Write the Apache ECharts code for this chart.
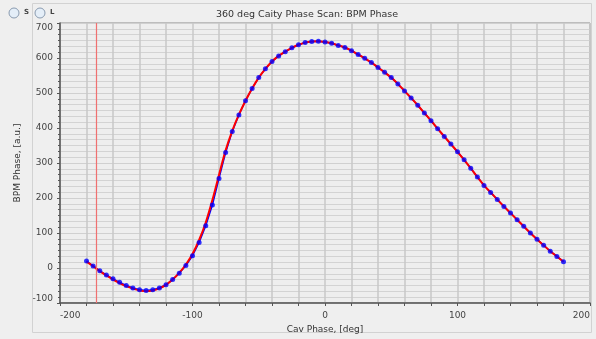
<!DOCTYPE html>
<html>
<head>
<meta charset="utf-8">
<script src="https://cdn.jsdelivr.net/npm/echarts@6/dist/echarts.min.js"></script>
<style>
  html, body { margin: 0; padding: 0; background: #efefef; }
  #chart { width: 596px; height: 339px; }
</style>
</head>
<body>
<div id="chart"></div>
<script>
// cavity phase (deg)
const cavPhase = [-180, -175, -170, -165, -160, -155, -150, -145, -140, -135, -130, -125, -120, -115, -110, -105,
  -100, -95, -90, -85, -80, -75, -70, -65, -60, -55, -50, -45, -40, -35, -30, -25, -20, -15, -10, -5,
  0, 5, 10, 15, 20, 25, 30, 35, 40, 45, 50, 55, 60, 65, 70, 75, 80, 85, 90, 95, 100, 105, 110, 115,
  120, 125, 130, 135, 140, 145, 150, 155, 160, 165, 170, 175, 180];
// measured BPM phase (blue points)
const bpmPhase = [20, 6, -8, -20, -31, -41, -50, -57, -62, -64, -62, -57, -48, -33, -15, 7,
  35, 73, 121, 180, 256, 330, 390, 437, 478, 513, 544, 569, 590, 606, 618, 629, 638, 644, 647, 648,
  646, 642, 636, 630, 621, 610, 599, 587, 573, 559, 544, 526, 506, 486, 465, 443, 421, 398, 376, 354, 332, 309, 285, 260,
  236, 216, 196, 176, 157, 138, 119, 100, 82, 65, 48, 33, 18];
// fitted curve (red line)
const fitPhase = [18, 5, -9, -21, -33, -43, -52, -59, -64, -66, -64, -58, -48, -33, -14, 10,
  40, 80, 130, 194, 266, 336, 392, 438, 478, 513, 544, 569, 590, 606, 618, 629, 638, 644, 647, 648,
  646, 642, 636, 630, 621, 610, 599, 587, 573, 559, 544, 526, 506, 486, 465, 443, 421, 398, 376, 354, 332, 309, 285, 260,
  236, 216, 196, 176, 157, 138, 119, 100, 82, 65, 48, 33, 18];
const markerPhase = -173;

const pts = cavPhase.map((x, i) => [x, bpmPhase[i]]);
const fit = cavPhase.map((x, i) => [x, fitPhase[i]]);

const chart = echarts.init(document.getElementById('chart'));
const font = 'DejaVu Sans';
const option = {
  backgroundColor: '#efefef',
  animation: false,
  title: {
    text: '360 deg Caity Phase Scan: BPM Phase',
    left: 302, top: 5, textAlign: 'center',
    textStyle: { fontFamily: font, fontSize: 9.5, fontWeight: 'normal', color: '#333' }
  },
  graphic: [
    { type: 'rect', shape: { x: 32.5, y: 3.5, width: 559, height: 329 }, style: { fill: 'none', stroke: '#d2d2d2', lineWidth: 1 }, silent: true, z: -1 },
    { type: 'circle', shape: { cx: 14, cy: 13, r: 5 }, style: { fill: '#e4eef8', stroke: '#8a9bb0', lineWidth: 1 } },
    { type: 'text', left: 24, top: 9, style: { text: 'S', font: 'bold 7px DejaVu Sans', fill: '#444' } },
    { type: 'circle', shape: { cx: 40, cy: 13, r: 5 }, style: { fill: '#e4eef8', stroke: '#8a9bb0', lineWidth: 1 } },
    { type: 'text', left: 50, top: 9, style: { text: 'L', font: 'bold 7px DejaVu Sans', fill: '#444' } }
  ],
  grid: { left: 60, top: 23, right: 6, bottom: 36, show: true, backgroundColor: '#eeeeee', borderColor: '#8a8a8a', borderWidth: 1 },
  xAxis: {
    type: 'value', min: -200, max: 200, interval: 100,
    name: 'Cav Phase, [deg]', nameLocation: 'middle', nameGap: 20,
    nameTextStyle: { fontFamily: font, fontSize: 9, color: '#333' },
    axisLine: { onZero: false, lineStyle: { color: '#555', width: 1.5 } },
    axisTick: { length: 3, lineStyle: { color: '#555' } },
    minorTick: { show: true, splitNumber: 5, length: 3, lineStyle: { color: '#555' } },
    axisLabel: { fontFamily: font, fontSize: 9, color: '#444', margin: 8, alignMinLabel: 'left', alignMaxLabel: 'right' },
    splitLine: { show: true, lineStyle: { color: '#c8c8c8', width: 1.5 } },
    minorSplitLine: { show: true, lineStyle: { color: '#c8c8c8', width: 1.5 } }
  },
  yAxis: {
    type: 'value', min: -100, max: 700, interval: 100,
    name: 'BPM Phase, [a.u.]', nameLocation: 'middle', nameGap: 38,
    nameTextStyle: { fontFamily: font, fontSize: 9, color: '#333' },
    axisLine: { show: true, onZero: false, lineStyle: { color: '#555', width: 1.5 } },
    axisTick: { show: true, length: 3, lineStyle: { color: '#555' } },
    minorTick: { show: true, splitNumber: 6, length: 2, lineStyle: { color: '#555' } },
    axisLabel: { fontFamily: font, fontSize: 9, color: '#444', margin: 7, verticalAlignMinLabel: 'bottom', verticalAlignMaxLabel: 'top' },
    splitLine: { show: true, lineStyle: { color: '#d0d0d0', width: 1 } },
    minorSplitLine: { show: true, lineStyle: { color: '#d3d3d3', width: 1 } }
  },
  series: [
    {
      type: 'line', data: pts, showSymbol: false, z: 2,
      lineStyle: { color: '#0000ff', width: 1.5 },
      markLine: {
        silent: true, symbol: 'none', label: { show: false },
        lineStyle: { color: '#f07070', width: 1.2, type: 'solid' },
        data: [{ xAxis: markerPhase }]
      }
    },
    {
      type: 'line', data: fit, smooth: 0.3, showSymbol: false, z: 3,
      lineStyle: { color: '#ff0000', width: 2 }
    },
    {
      type: 'scatter', data: pts, symbolSize: 5, z: 4,
      itemStyle: { color: '#0000ff' }
    }
  ]
};
chart.setOption(option);
</script>
</body>
</html>
